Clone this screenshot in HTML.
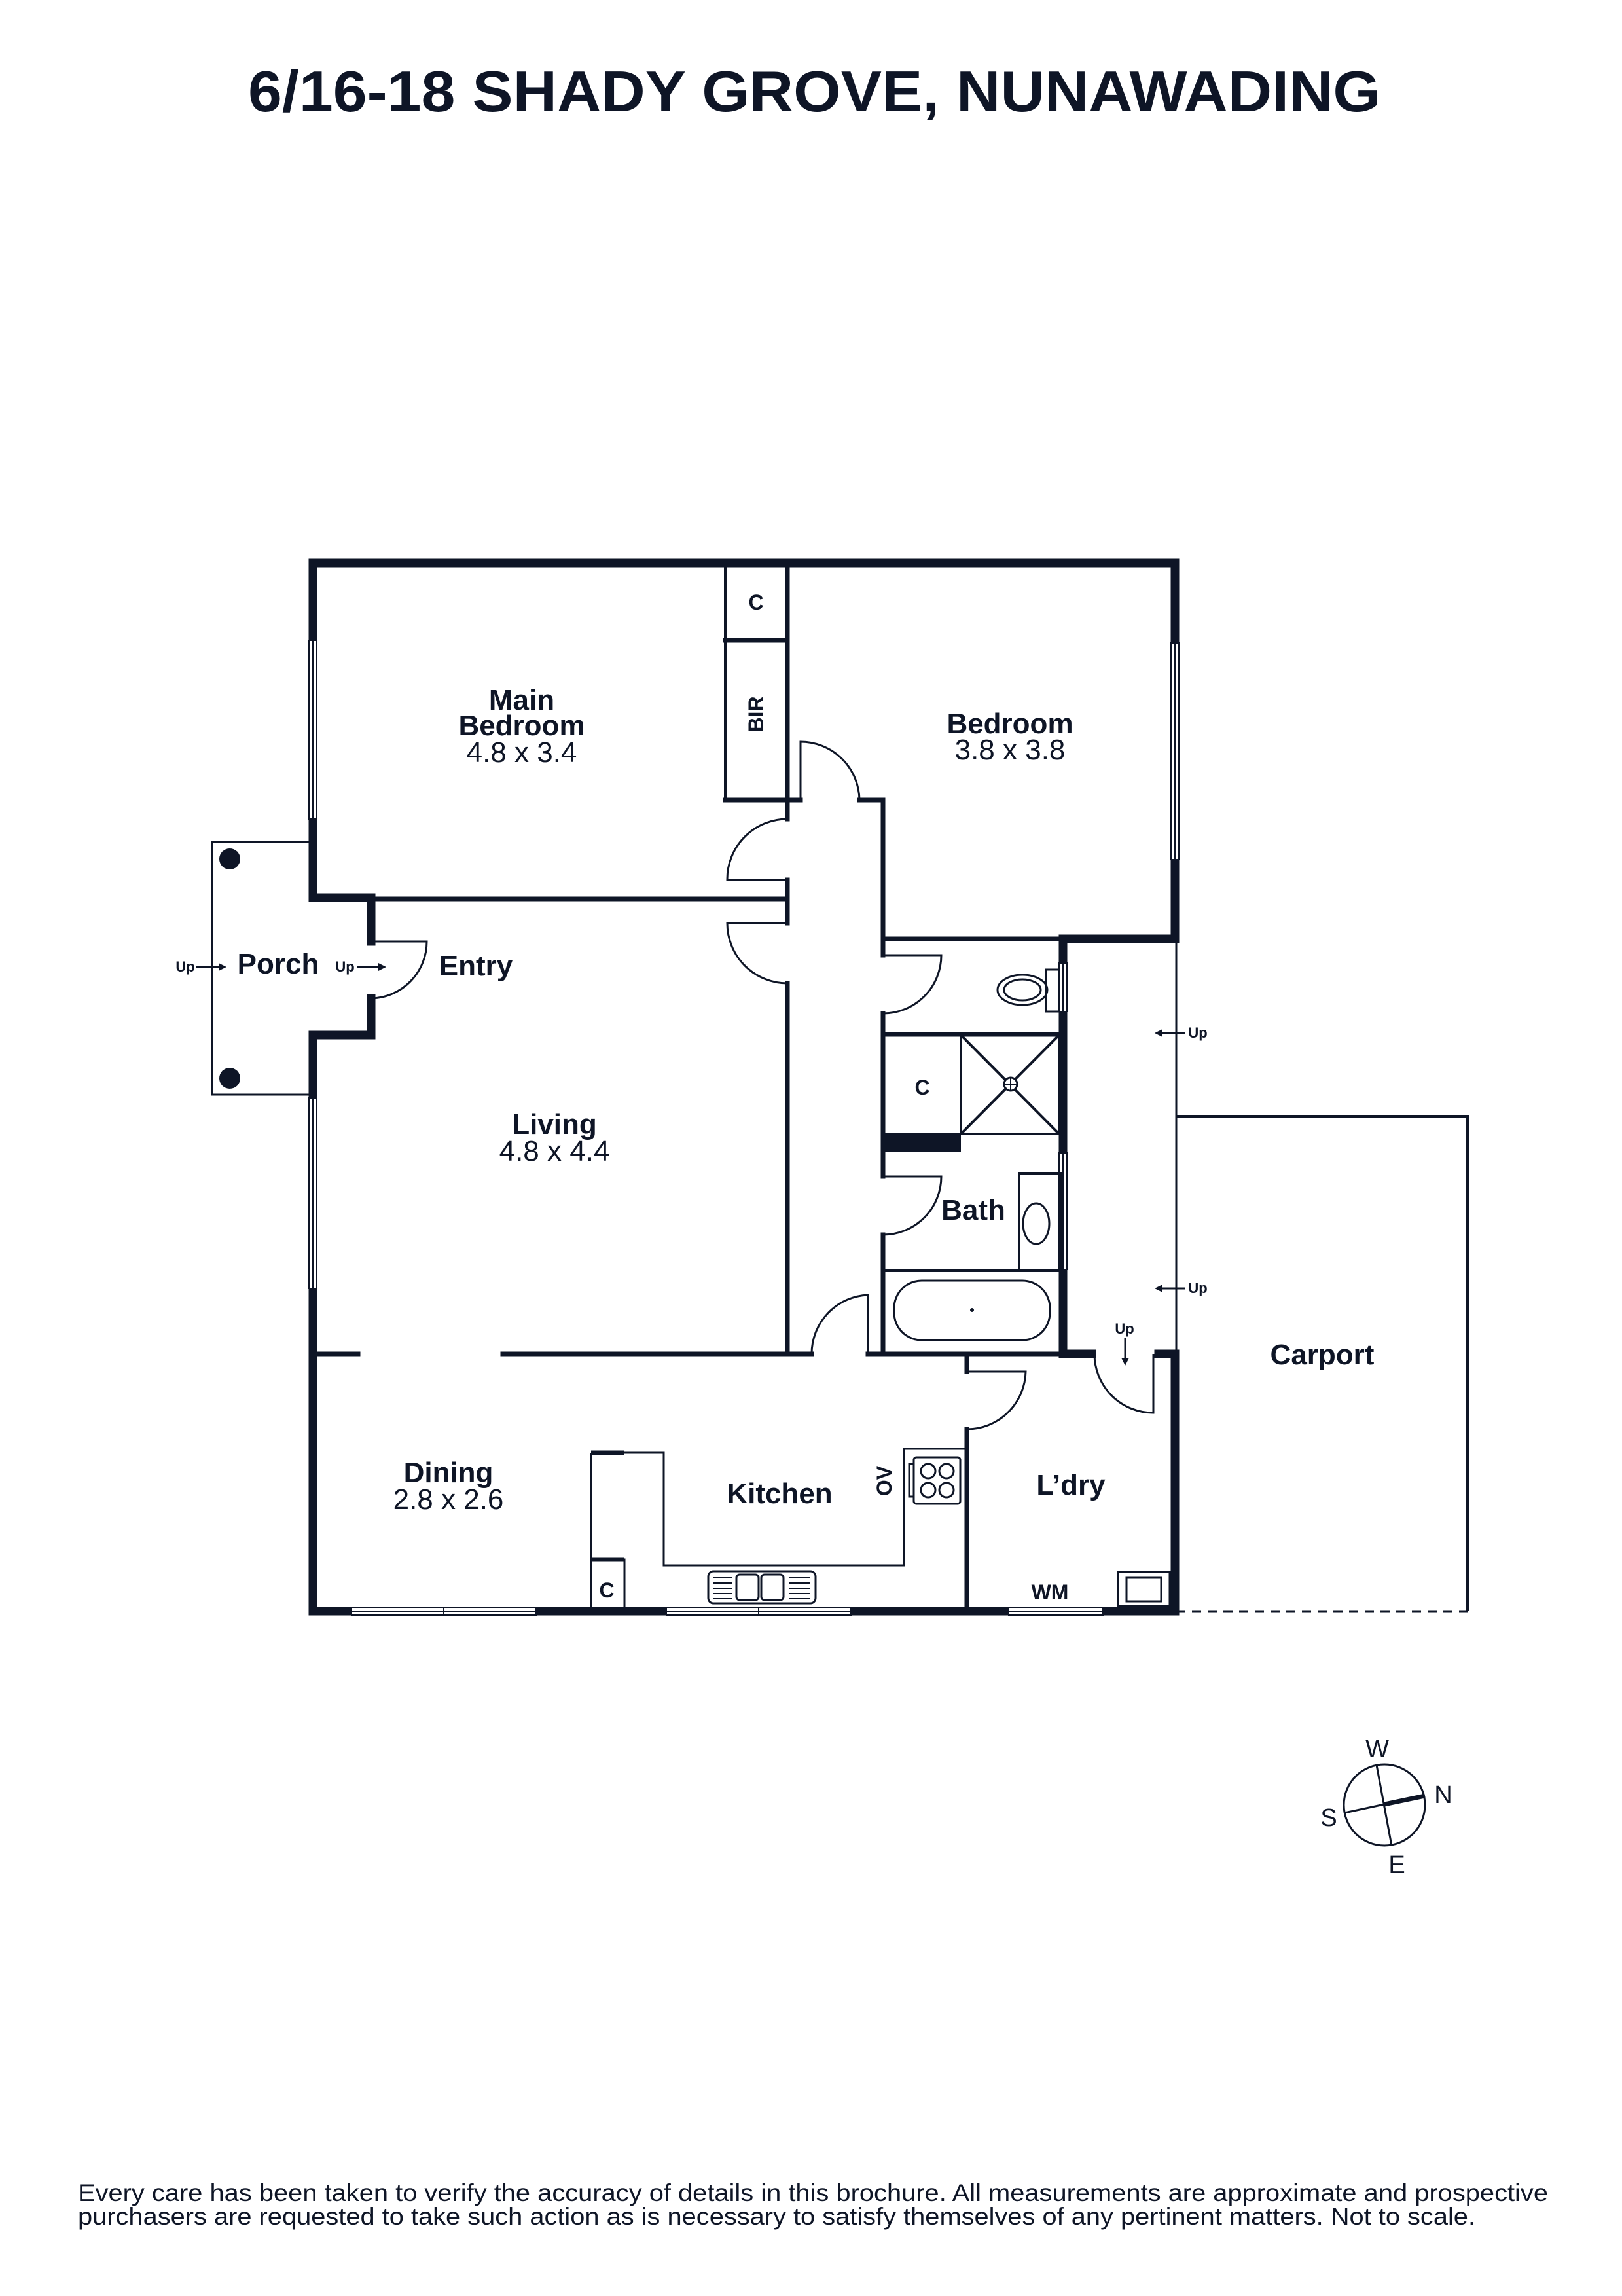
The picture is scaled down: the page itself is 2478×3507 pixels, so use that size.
<!DOCTYPE html>
<html><head><meta charset="utf-8"><style>html,body{margin:0;padding:0;background:#fff}svg{display:block}</style></head>
<body>
<svg width="2478" height="3507" viewBox="0 0 2478 3507" xmlns="http://www.w3.org/2000/svg" font-family="Liberation Sans, sans-serif" fill="none" stroke="#0e1526">
<rect x="0" y="0" width="2478" height="3507" fill="#fff" stroke="none"/>
<text x="379" y="170" font-size="88" font-weight="bold" fill="#0e1526" stroke="none" textLength="1730" lengthAdjust="spacingAndGlyphs">6/16-18 SHADY GROVE, NUNAWADING</text>

<!-- carport & porch thin -->
<path d="M1797 1705 L2242 1705 L2242 2461" stroke-width="4"/>
<path d="M1797 2461 L2242 2461" stroke-width="3" stroke-dasharray="14 10"/>
<path d="M1797 1434 L1797 2062" stroke-width="3"/>
<path d="M478 1286 L324 1286 L324 1672 L478 1672" stroke-width="3"/>
<circle cx="351" cy="1312" r="16" fill="#0e1526" stroke="none"/>
<circle cx="351" cy="1647" r="16" fill="#0e1526" stroke="none"/>

<!-- outer thick walls -->
<g stroke-width="13" stroke-linejoin="miter" stroke-linecap="square">
<path d="M1624 1434 L1795 1434 L1795 860 L478 860 L478 1371 L567 1371 L567 1438"/>
<path d="M567 1525 L567 1581 L478 1581 L478 2461 L1795 2461 L1795 2068 L1770 2068"/>
<path d="M1624 1434 L1624 2068 L1668 2068"/>
</g>
<!-- windows -->
<g fill="#fff" stroke-width="2">
<rect x="472" y="978" width="12" height="273"/><line x1="478" y1="978" x2="478" y2="1251"/>
<rect x="472" y="1677" width="12" height="291"/><line x1="478" y1="1677" x2="478" y2="1968"/>
<rect x="1789" y="982" width="12" height="331"/><line x1="1795" y1="982" x2="1795" y2="1313"/>
<rect x="1618" y="1471" width="12" height="74"/><line x1="1624" y1="1471" x2="1624" y2="1545"/>
<rect x="1618" y="1761" width="12" height="178"/><line x1="1624" y1="1761" x2="1624" y2="1939"/>
<rect x="537" y="2455" width="282" height="12"/><line x1="537" y1="2461" x2="819" y2="2461"/><line x1="678" y1="2455" x2="678" y2="2467"/>
<rect x="1018" y="2455" width="282" height="12"/><line x1="1018" y1="2461" x2="1300" y2="2461"/><line x1="1159" y1="2455" x2="1159" y2="2467"/>
<rect x="1541" y="2455" width="144" height="12"/><line x1="1541" y1="2461" x2="1685" y2="2461"/>
</g>

<!-- interior walls -->
<g stroke-width="7" stroke-linecap="square">
<path d="M567 1373 L1203 1373"/>
<path d="M1203 860 L1203 1251"/>
<path d="M1203 1344 L1203 1410"/>
<path d="M1203 1502 L1203 2068"/>
<path d="M1108 978 L1203 978 M1108 1222 L1223 1222 M1313 1222 L1349 1222 L1349 1459"/>
<path d="M1349 1548 L1349 1797 M1349 1886 L1349 2068"/>
<path d="M1349 1434 L1624 1434"/>
<path d="M1349 1580 L1624 1580"/>
<path d="M478 2068 L547 2068 M768 2068 L1240 2068 M1326 2068 L1624 2068"/>
<path d="M1477 2068 L1477 2095 M1477 2183 L1477 2461"/>
</g>
<g stroke-width="4">
<path d="M1108 860 L1108 1222"/>
<path d="M1349 1580 L1349 1732"/>
<rect x="1349" y="1581" width="119" height="151"/>
<rect x="1468" y="1581" width="150" height="151"/>
<path d="M1468 1581 L1618 1732 M1618 1581 L1468 1732"/>
<line x1="1349" y1="1941" x2="1624" y2="1941"/>
<rect x="1557" y="1792" width="64" height="149"/>
</g>
<rect x="1349" y="1732" width="119" height="27" fill="#0e1526" stroke="none"/>
<circle cx="1544" cy="1656" r="10" fill="#fff" stroke-width="3"/><path d="M1534 1656 L1554 1656 M1544 1646 L1544 1666" stroke-width="2"/>
<!-- toilet -->
<ellipse cx="1562" cy="1512" rx="38" ry="23" stroke-width="3"/><ellipse cx="1562" cy="1512" rx="28" ry="16" stroke-width="3"/>
<rect x="1598" y="1481" width="20" height="64" stroke-width="3"/>
<ellipse cx="1583" cy="1869" rx="20" ry="31" stroke-width="3"/>
<rect x="1366" y="1956" width="238" height="91" rx="42" stroke-width="3"/>
<circle cx="1485" cy="2001" r="3" fill="#0e1526" stroke="none"/>

<!-- doors -->
<g stroke-width="3">
<path d="M1203 1344 L1111 1344 A92 92 0 0 1 1203 1251"/>
<path d="M1203 1410 L1111 1410 A92 92 0 0 0 1203 1502"/>
<path d="M1223 1222 L1223 1133 A90 90 0 0 1 1313 1222"/>
<path d="M567 1438 L652 1438 A87 87 0 0 1 567 1525"/>
<path d="M1349 1459 L1438 1459 A89 89 0 0 1 1349 1548"/>
<path d="M1349 1797 L1438 1797 A89 89 0 0 1 1349 1886"/>
<path d="M1326 2068 L1326 1978 A90 90 0 0 0 1240 2068"/>
<path d="M1477 2095 L1567 2095 A90 90 0 0 1 1477 2183"/>
<path d="M1762 2068 L1762 2158 A90 90 0 0 1 1672 2068"/>
</g>

<!-- kitchen -->
<g stroke-width="3">
<path d="M903 2219 L1014 2219 L1014 2391 L1381 2391 L1381 2213 L1477 2213"/>
<path d="M903 2219 L903 2461"/>
<rect x="903" y="2382" width="51" height="79"/>
<rect x="1082" y="2400" width="164" height="49" rx="8"/>
<rect x="1125" y="2405" width="34" height="39" rx="5"/>
<rect x="1163" y="2405" width="34" height="39" rx="5"/>
<path d="M1090 2410 L1118 2410 M1090 2418 L1118 2418 M1090 2426 L1118 2426 M1090 2434 L1118 2434 M1090 2442 L1118 2442 M1205 2410 L1238 2410 M1205 2418 L1238 2418 M1205 2426 L1238 2426 M1205 2434 L1238 2434 M1205 2442 L1238 2442" stroke-width="2"/>
<rect x="1396" y="2226" width="71" height="71" rx="4"/>
<rect x="1389" y="2236" width="7" height="50"/>
<circle cx="1418" cy="2247" r="11"/><circle cx="1446" cy="2247" r="11"/><circle cx="1418" cy="2276" r="11"/><circle cx="1446" cy="2276" r="11"/>
<rect x="1708" y="2401" width="79" height="52"/>
<rect x="1721" y="2410" width="53" height="36"/>
</g>
<path d="M903 2219 L954 2219 M903 2382 L954 2382" stroke-width="7"/>

<!-- up arrows -->
<g stroke-width="3">
<path d="M300 1477 L340 1477"/><path d="M584 1477 L545 1477"/>
<path d="M1770 1578 L1810 1578"/><path d="M1770 1968 L1810 1968"/>
<path d="M1719 2043 L1719 2078"/>
</g>
<g fill="#0e1526" stroke="none">
<path d="M346 1477 L334 1471 L334 1483Z"/><path d="M590 1477 L578 1471 L578 1483Z"/>
<path d="M1764 1578 L1776 1572 L1776 1584Z"/><path d="M1764 1968 L1776 1962 L1776 1974Z"/>
<path d="M1719 2086 L1713 2074 L1725 2074Z"/>
</g>

<g fill="#0e1526" stroke="none" text-anchor="middle">
<g font-weight="bold" font-size="44">
<text x="797" y="1084">Main</text><text x="797" y="1123">Bedroom</text>
<text x="1543" y="1120">Bedroom</text>
<text x="847" y="1732">Living</text>
<text x="685" y="2264">Dining</text>
<text x="1191" y="2296">Kitchen</text>
<text x="1636" y="2283">L’dry</text>
<text x="2020" y="2084">Carport</text>
<text x="1487" y="1863">Bath</text>
<text x="425" y="1487">Porch</text>
<text x="727" y="1490">Entry</text>
</g>
<g font-size="44">
<text x="797" y="1164">4.8 x 3.4</text>
<text x="1543" y="1160">3.8 x 3.8</text>
<text x="847" y="1773">4.8 x 4.4</text>
<text x="685" y="2305">2.8 x 2.6</text>
</g>
<g font-weight="bold" font-size="32">
<text x="1155" y="931">C</text>
<text x="1409" y="1672">C</text>
<text x="927" y="2440">C</text>
<text x="1604" y="2443">WM</text>
<text transform="translate(1166 1091) rotate(-90)">BIR</text>
<text transform="translate(1362 2262) rotate(-90)">OV</text>
</g>
<g font-weight="bold" font-size="22">
<text x="283" y="1484">Up</text><text x="527" y="1484">Up</text>
<text x="1830" y="1585">Up</text><text x="1830" y="1975">Up</text>
<text x="1718" y="2037">Up</text>
</g>
</g>

<!-- compass -->
<circle cx="2115" cy="2757" r="62" stroke-width="3"/>
<path d="M2103 2696 L2126 2819 M2054 2769 L2115 2756" stroke-width="3"/>
<path d="M2115 2756 L2177 2743" stroke-width="7"/>
<g fill="#0e1526" stroke="none" font-size="38" text-anchor="middle">
<text x="2104" y="2684">W</text><text x="2205" y="2754">N</text><text x="2030" y="2789">S</text><text x="2134" y="2861">E</text>
</g>

<g fill="#0e1526" stroke="none" font-size="37">
<text x="119" y="3362" textLength="2246" lengthAdjust="spacingAndGlyphs">Every care has been taken to verify the accuracy of details in this brochure. All measurements are approximate and prospective</text>
<text x="119" y="3398" textLength="2135" lengthAdjust="spacingAndGlyphs">purchasers are requested to take such action as is necessary to satisfy themselves of any pertinent matters. Not to scale.</text>
</g>
</svg>
</body></html>
